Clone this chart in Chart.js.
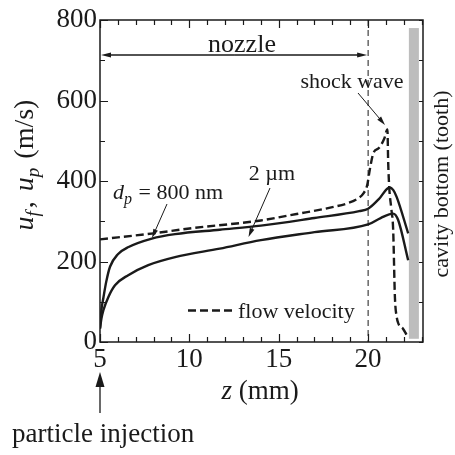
<!DOCTYPE html>
<html>
<head>
<meta charset="utf-8">
<script src="https://cdn.jsdelivr.net/npm/chart.js@4.4.0/dist/chart.umd.min.js"></script>
<style>
  html, body { margin: 0; padding: 0; background: #fff; }
  #wrap { width: 455px; height: 455px; }
</style>
</head>
<body>
<div id="wrap"><canvas id="velocityChart" width="455" height="455"></canvas></div>
<script>
// axial position z (mm) and velocity (m/s)
const flowZ = [5, 8, 10, 14, 16, 18, 18.8, 19.4, 19.75, 19.95, 20.1, 20.3, 20.6, 20.9, 21.08, 21.12, 21.18, 21.3, 21.4, 21.5, 21.6, 21.7, 21.95, 22.15];
const flowU = [255, 270, 282, 302, 318, 335, 344, 356, 370, 390, 430, 470, 482, 505, 528, 450, 385, 330, 280, 110, 62, 45, 33, 18];

// particle velocity, dp = 800 nm
const fineZ = [5, 5.08, 5.19, 5.35, 5.56, 6.0, 6.6, 7.9, 9.2, 11.7, 14, 17, 19.5, 20, 20.6, 21.2, 21.4, 21.6, 22.24];
const fineU = [35, 80, 110, 150, 187, 218, 236, 257, 268, 279, 289, 308, 325, 331, 355, 384, 378, 360, 270];

// particle velocity, dp = 2 µm
const coarseZ = [5, 5.08, 5.19, 5.47, 5.84, 6.58, 7.7, 9.2, 11.7, 14, 17, 20, 20.7, 21.4, 21.68, 22.24];
const coarseU = [33, 58, 79, 112, 141, 166, 191, 211, 232, 253, 273, 292, 308, 319, 303, 203];

const xTickLabels = [5, 10, 15, 20];
const yTickLabels = [0, 200, 400, 600, 800];

const nozzleExit = 20;          // mm
const nozzleArrowU = 713;       // height of the "nozzle" span arrow
const cavityWall = [22.28, 22.84];
const cavityTop = 780;

const SERIF = '"Liberation Serif", "Times New Roman", serif';
const INK = '#1a1a1a';

function pts(xs, ys) {
  return xs.map((x, i) => ({ x: x, y: ys[i] }));
}

function fontOf(r) {
  return (r.italic ? 'italic ' : '') + r.size + 'px ' + SERIF;
}

// draw a row of mixed-style text pieces (italic symbols, subscripts)
function drawRuns(ctx, runs, x, y, align) {
  let total = 0;
  runs.forEach(r => {
    ctx.font = fontOf(r);
    r.w = ctx.measureText(r.t).width + (r.gap || 0);
    total += r.w;
  });
  let cx = align === 'center' ? x - total / 2 : (align === 'right' ? x - total : x);
  runs.forEach(r => {
    ctx.font = fontOf(r);
    ctx.fillText(r.t, cx, y + (r.dy || 0));
    cx += r.w;
  });
}

function arrow(ctx, x1, y1, x2, y2, len, half) {
  const a = Math.atan2(y2 - y1, x2 - x1);
  ctx.beginPath();
  ctx.moveTo(x1, y1);
  ctx.lineTo(x2 - Math.cos(a) * len * 0.8, y2 - Math.sin(a) * len * 0.8);
  ctx.stroke();
  ctx.beginPath();
  ctx.moveTo(x2, y2);
  ctx.lineTo(x2 - Math.cos(a) * len - Math.sin(a) * half, y2 - Math.sin(a) * len + Math.cos(a) * half);
  ctx.lineTo(x2 - Math.cos(a) * len + Math.sin(a) * half, y2 - Math.sin(a) * len - Math.cos(a) * half);
  ctx.closePath();
  ctx.fill();
}

// wall, nozzle exit line, frame, inward ticks and all the labels
const framePlugin = {
  id: 'frame',
  beforeDatasetsDraw(chart) {
    const { ctx, chartArea: a, scales: { x, y } } = chart;
    ctx.save();
    // cavity bottom (tooth)
    ctx.fillStyle = '#bdbdbd';
    const wx0 = x.getPixelForValue(cavityWall[0]);
    const wx1 = x.getPixelForValue(cavityWall[1]);
    const wy0 = y.getPixelForValue(cavityTop);
    const wy1 = y.getPixelForValue(8);
    ctx.fillRect(wx0, wy0, wx1 - wx0, wy1 - wy0);

    // nozzle exit
    const nx = x.getPixelForValue(nozzleExit);
    ctx.strokeStyle = INK;
    ctx.lineWidth = 1;
    ctx.setLineDash([6, 4]);
    ctx.beginPath();
    ctx.moveTo(nx, a.top);
    ctx.lineTo(nx, a.bottom);
    ctx.stroke();
    ctx.restore();
  },
  afterDraw(chart) {
    const { ctx, chartArea: a, scales: { x, y } } = chart;
    ctx.save();
    ctx.strokeStyle = INK;
    ctx.fillStyle = INK;

    // frame
    ctx.lineWidth = 1.5;
    ctx.strokeRect(a.left, a.top, a.right - a.left, a.bottom - a.top);

    // inward ticks
    ctx.lineWidth = 1.2;
    ctx.beginPath();
    for (let v = 5; v <= 23; v++) {
      const px = Math.round(x.getPixelForValue(v)) + 0.5;
      const L = v % 5 === 0 ? 8 : 5;
      ctx.moveTo(px, a.bottom); ctx.lineTo(px, a.bottom - L);
      ctx.moveTo(px, a.top); ctx.lineTo(px, a.top + L);
    }
    for (let v = 0; v <= 800; v += 100) {
      const py = Math.round(y.getPixelForValue(v)) + 0.5;
      const L = v % 200 === 0 ? 8 : 5;
      ctx.moveTo(a.left, py); ctx.lineTo(a.left + L, py);
      ctx.moveTo(a.right, py); ctx.lineTo(a.right - 4, py);
    }
    ctx.stroke();

    ctx.textBaseline = 'alphabetic';

    // nozzle span
    const nx = x.getPixelForValue(nozzleExit);
    const ny = y.getPixelForValue(nozzleArrowU);
    ctx.lineWidth = 1.3;
    arrow(ctx, (a.left + nx) / 2, ny, a.left + 1, ny, 10, 2.5);
    arrow(ctx, (a.left + nx) / 2, ny, nx - 1, ny, 10, 2.5);
    ctx.font = '26px ' + SERIF;
    ctx.textAlign = 'center';
    ctx.fillText('nozzle', 242, 52);

    // shock wave
    ctx.font = '22px ' + SERIF;
    ctx.fillText('shock wave', 352, 88);
    ctx.lineWidth = 1;
    arrow(ctx, 358, 93, 385, 125, 9, 2.5);

    // 2 µm
    ctx.fillText('2 \u00b5m', 272, 180);
    arrow(ctx, 270, 188, 248.5, 237, 9, 2.5);

    // dp = 800 nm
    ctx.textAlign = 'left';
    drawRuns(ctx, [
      { t: 'd', italic: true, size: 22 },
      { t: 'p', italic: true, size: 16, dy: 5, gap: 1 },
      { t: ' = 800 nm', size: 22 }
    ], 168, 199, 'center');
    arrow(ctx, 167, 204, 152, 238, 9, 2.5);

    // legend entry
    ctx.lineWidth = 2.3;
    ctx.setLineDash([8, 4]);
    ctx.beginPath();
    ctx.moveTo(188, 310.5);
    ctx.lineTo(234, 310.5);
    ctx.stroke();
    ctx.setLineDash([]);
    ctx.font = '22px ' + SERIF;
    ctx.fillText('flow velocity', 238, 318);

    // particle injection
    ctx.lineWidth = 1.3;
    arrow(ctx, 100, 413, 100, 372, 15, 4.5);
    ctx.font = '27px ' + SERIF;
    ctx.fillText('particle injection', 12, 442);

    // x title
    drawRuns(ctx, [
      { t: 'z', italic: true, size: 27 },
      { t: ' (mm)', size: 27 }
    ], 260, 399, 'center');

    // y title
    ctx.save();
    ctx.translate(24, 165);
    ctx.rotate(-Math.PI / 2);
    drawRuns(ctx, [
      { t: 'u', italic: true, size: 28 },
      { t: 'f', italic: true, size: 19, dy: 6, gap: 3 },
      { t: ', ', size: 28, gap: 3 },
      { t: 'u', italic: true, size: 28 },
      { t: 'p', italic: true, size: 19, dy: 6, gap: 2 },
      { t: ' (m/s)', size: 28 }
    ], 0, 9, 'center');
    ctx.restore();

    // cavity label
    ctx.save();
    ctx.translate(448, 184);
    ctx.rotate(-Math.PI / 2);
    ctx.font = '22px ' + SERIF;
    ctx.textAlign = 'center';
    ctx.fillText('cavity bottom (tooth)', 0, 0);
    ctx.restore();

    ctx.restore();
  }
};

const lineStyle = {
  showLine: true,
  fill: false,
  pointRadius: 0,
  borderColor: INK,
  borderWidth: 2.4,
  cubicInterpolationMode: 'monotone'
};

const ctx = document.getElementById('velocityChart').getContext('2d');
const velocityChart = new Chart(ctx, {
  type: 'scatter',
  data: {
    datasets: [
      Object.assign({ label: 'flow velocity', data: pts(flowZ, flowU), borderDash: [8, 4] }, lineStyle),
      Object.assign({ label: 'dp = 800 nm', data: pts(fineZ, fineU) }, lineStyle),
      Object.assign({ label: '2 µm', data: pts(coarseZ, coarseU) }, lineStyle)
    ]
  },
  options: {
    responsive: false,
    animation: false,
    devicePixelRatio: 1,
    layout: { padding: { top: 20, right: 32, left: 0, bottom: 0 } },
    plugins: { legend: { display: false }, tooltip: { enabled: false } },
    scales: {
      x: {
        type: 'linear',
        min: 5,
        max: 23.07,
        afterFit(s) { s.height = 113; },
        grid: { display: false, drawTicks: false },
        border: { display: false },
        ticks: {
          stepSize: 1,
          autoSkip: false,
          maxRotation: 0,
          padding: 2,
          color: INK,
          font: { family: SERIF, size: 27 },
          callback: v => xTickLabels.includes(v) ? String(v) : ''
        }
      },
      y: {
        min: 0,
        max: 800,
        afterFit(s) { s.width = 100; },
        grid: { display: false, drawTicks: false },
        border: { display: false },
        ticks: {
          stepSize: 100,
          padding: 3,
          color: INK,
          font: { family: SERIF, size: 27 },
          callback: v => yTickLabels.includes(v) ? String(v) : ''
        }
      }
    }
  },
  plugins: [framePlugin]
});
</script>
</body>
</html>
